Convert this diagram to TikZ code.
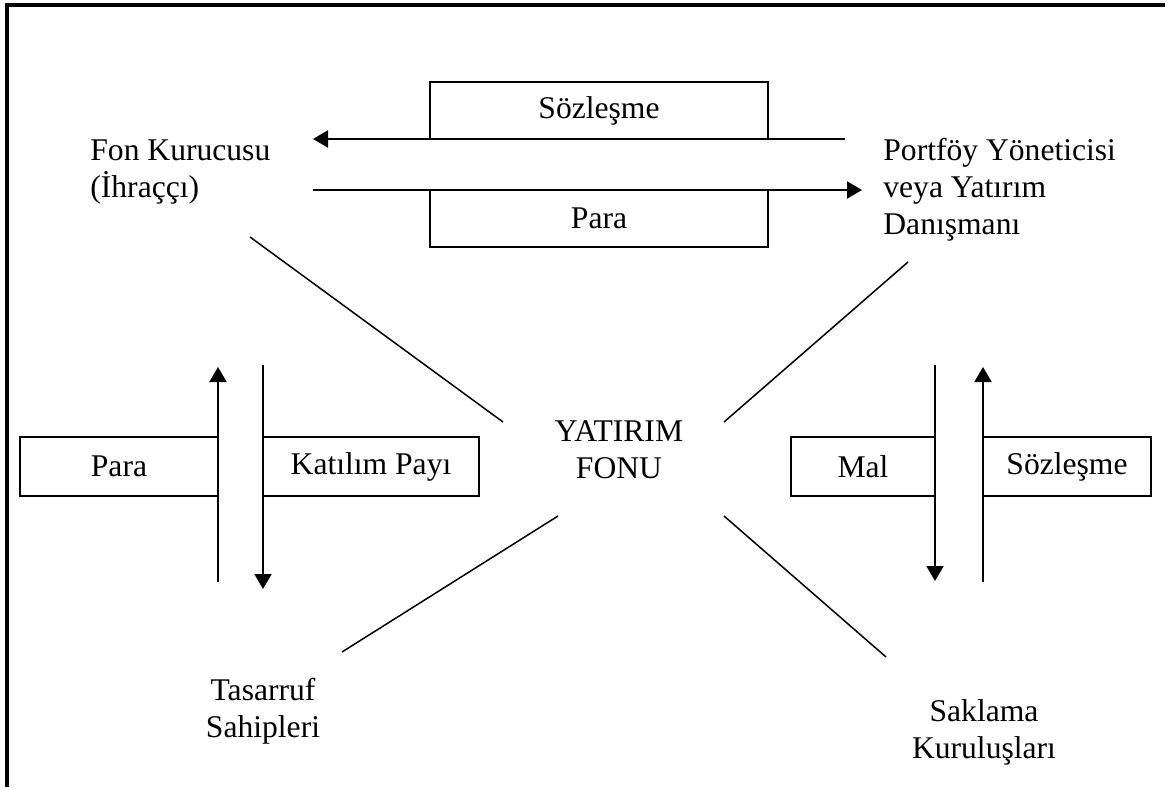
\documentclass[tikz,border=0pt]{standalone}
\usepackage{fontspec}
\setmainfont{Liberation Serif}
\usetikzlibrary{arrows.meta}

\tikzset{
  kutu/.style={line width=1.1pt},
  ok/.style={line width=1pt,-{Triangle[length=7.5pt,width=8.5pt]}},
  cizgi/.style={line width=0.75pt},
  yazi/.style={inner sep=0pt,font=\fontsize{15.8}{18.5}\selectfont}
}

\begin{document}
\begin{tikzpicture}[x=0.5pt,y=-0.5pt,line cap=butt,line join=miter]
  \useasboundingbox (0,0) rectangle (1170,787);
  % cerceve (ust ve sol kenar)
  \draw[line width=1.6pt] (7,787) -- (7,5) -- (1165,5);

  % taraflar
  \node[yazi,align=left,anchor=west] (kurucu) at (90,172) {Fon Kurucusu\\(İhraççı)};
  \node[yazi,align=left,anchor=west] (yonetici) at (883,190) {Portföy Yöneticisi\\veya Yatırım\\Danışmanı};
  \node[yazi,align=center] (fon) at (619,450) {YATIRIM\\FONU};
  \node[yazi,align=center] (tasarruf) at (263,711) {Tasarruf\\Sahipleri};
  \node[yazi,align=center] (saklama) at (984,732) {Saklama\\Kuruluşları};

  % ust kutular ve oklar
  \draw[kutu] (430,82) rectangle (768,139) node[yazi,midway] (sozUst) {Sözleşme};
  \draw[kutu] (430,190) rectangle (768,247) node[yazi,midway] (paraUst) {Para};
  \coordinate (u1) at (845,139); \coordinate (u2) at (313,139);
  \coordinate (u3) at (313,190); \coordinate (u4) at (862,190);
  \draw[ok] (u1) -- (u2);
  \draw[ok] (u3) -- (u4);

  % sol kutular ve oklar
  \draw[kutu] (20,437) rectangle (218,496) node[yazi,midway] (paraSol) {Para};
  \draw[kutu] (263,437) rectangle (479,496) node[yazi,midway] (payi) {Katılım Payı};
  \coordinate (s1) at (218,582); \coordinate (s2) at (218,367);
  \coordinate (s3) at (263,365); \coordinate (s4) at (263,589);
  \draw[ok] (s1) -- (s2);
  \draw[ok] (s3) -- (s4);

  % sag kutular ve oklar
  \draw[kutu] (791,437) rectangle (935,496) node[yazi,midway] (mal) {Mal};
  \draw[kutu] (983,437) rectangle (1151,496) node[yazi,midway] (sozSag) {Sözleşme};
  \coordinate (r1) at (935,365); \coordinate (r2) at (935,581);
  \coordinate (r3) at (983,582); \coordinate (r4) at (983,367);
  \draw[ok] (r1) -- (r2);
  \draw[ok] (r3) -- (r4);

  % fona giden cizgiler
  \coordinate (d1) at (250,237); \coordinate (d2) at (503,422);
  \coordinate (d3) at (908,262); \coordinate (d4) at (724,422);
  \coordinate (d5) at (558,516); \coordinate (d6) at (342,652);
  \coordinate (d7) at (724,516); \coordinate (d8) at (886,657);
  \draw[cizgi] (d1) -- (d2);
  \draw[cizgi] (d3) -- (d4);
  \draw[cizgi] (d5) -- (d6);
  \draw[cizgi] (d7) -- (d8);
\end{tikzpicture}
\end{document}
